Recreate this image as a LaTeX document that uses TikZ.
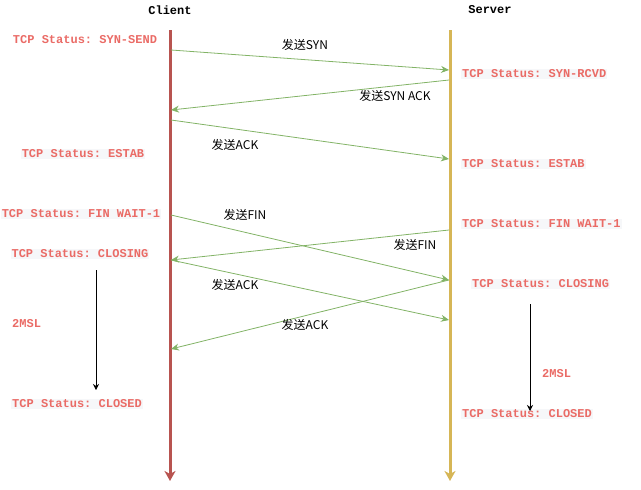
\documentclass[tikz,border=0pt]{standalone}
\usepackage{fontspec}
\setmonofont{Liberation Mono}
\newfontfamily\cjk{Noto Sans CJK SC}
\usetikzlibrary{arrows.meta}
\definecolor{cliline}{HTML}{B85450}
\definecolor{srvline}{HTML}{D6B656}
\definecolor{msg}{HTML}{82B366}
\definecolor{stat}{HTML}{EA6B66}
\definecolor{statbg}{HTML}{F6F7F9}
\begin{document}
\begin{tikzpicture}[x=1pt,y=-1pt,
  title/.style={font=\ttfamily\bfseries\fontsize{12}{14}\selectfont, inner sep=0pt},
  status/.style={font=\ttfamily\bfseries\fontsize{12}{14}\selectfont, text=stat, inner sep=1pt},
  statusbg/.style={status, fill=statbg},
  lbl/.style={font=\cjk\fontsize{12}{14}\selectfont, inner sep=0pt},
  msgline/.style={draw=msg, line width=0.8pt, -{Stealth[length=8pt,width=7pt]}},
  timer/.style={draw=black, line width=0.8pt, -{Stealth[length=6pt,width=6pt]}}]
\useasboundingbox (0,0) rectangle (641,490);
% lifelines
\node[title] (client) at (170,10) {Client};
\node[title] (server) at (490,10) {Server};
\coordinate (ctop) at (170,30);
\coordinate (cbot) at (170,481);
\coordinate (stop) at (450,30);
\coordinate (sbot) at (450,481);
\draw[cliline, line width=3pt, -{Stealth[length=10pt,width=11pt,inset=3pt]}] (ctop) -- (cbot);
\draw[srvline, line width=3pt, -{Stealth[length=10pt,width=11pt,inset=3pt]}] (stop) -- (sbot);
% status labels
\node[status] (s1) at (85,40) {TCP Status: SYN-SEND};
\node[statusbg, anchor=west] (s2) at (461,74) {TCP Status: SYN-RCVD};
\node[statusbg] (s3) at (83,154) {TCP Status: ESTAB};
\node[statusbg, anchor=west] (s4) at (461,164) {TCP Status: ESTAB};
\node[statusbg] (s5) at (81,214) {TCP Status: FIN WAIT-1};
\node[statusbg, anchor=west] (s6) at (461,224) {TCP Status: FIN WAIT-1};
\node[statusbg] (s7) at (80,254) {TCP Status: CLOSING};
\node[statusbg, anchor=west] (s8) at (471,284) {TCP Status: CLOSING};
\node[status, anchor=west] (s9) at (11,324) {2MSL};
\node[status, anchor=west] (s10) at (541,374) {2MSL};
\node[statusbg, anchor=west] (s11) at (11,404) {TCP Status: CLOSED};
\node[statusbg, anchor=west] (s12) at (461,414) {TCP Status: CLOSED};
% timers
\coordinate (t1a) at (96,270);
\coordinate (t1b) at (96,390);
\coordinate (t2a) at (530,304);
\coordinate (t2b) at (530,411);
\draw[timer] (t1a) -- (t1b);
\draw[timer] (t2a) -- (t2b);
% message endpoints
\coordinate (m1a) at (171,50);  \coordinate (m1b) at (449,70);
\coordinate (m2a) at (449,80);  \coordinate (m2b) at (171,110);
\coordinate (m3a) at (171,120); \coordinate (m3b) at (449,159);
\coordinate (m4a) at (171,215); \coordinate (m4b) at (449,280);
\coordinate (m5a) at (449,230); \coordinate (m5b) at (171,260);
\coordinate (m6a) at (171,260); \coordinate (m6b) at (449,320);
\coordinate (m7a) at (449,280); \coordinate (m7b) at (171,349);
\draw[msgline] (m1a) -- (m1b);
\draw[msgline] (m2a) -- (m2b);
\draw[msgline] (m3a) -- (m3b);
\draw[msgline] (m4a) -- (m4b);
\draw[msgline] (m5a) -- (m5b);
\draw[msgline] (m6a) -- (m6b);
\draw[msgline] (m7a) -- (m7b);
% message labels
\node[lbl] (l1) at (305,45) {发送SYN};
\node[lbl] (l2) at (395,96) {发送SYN ACK};
\node[lbl] (l3) at (235,145) {发送ACK};
\node[lbl] (l4) at (245,215) {发送FIN};
\node[lbl] (l5) at (415,245) {发送FIN};
\node[lbl] (l6) at (235,285) {发送ACK};
\node[lbl] (l7) at (305,325) {发送ACK};
\end{tikzpicture}
\end{document}
